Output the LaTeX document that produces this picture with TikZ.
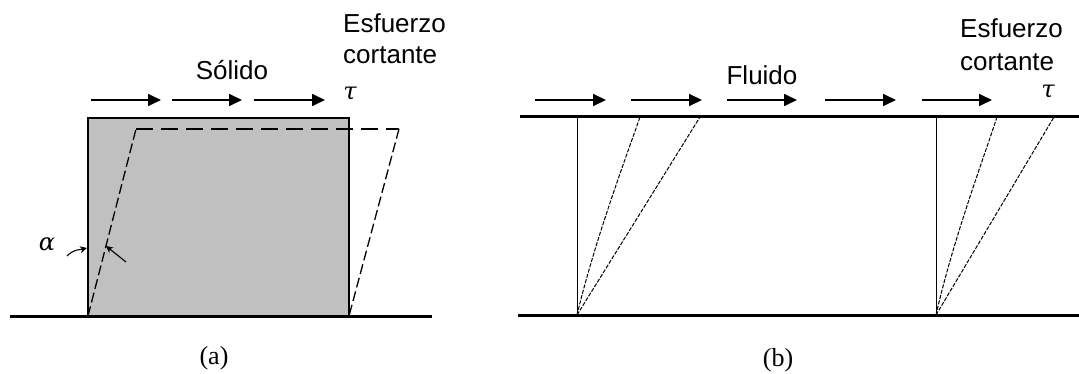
\documentclass[tikz,border=0pt]{standalone}
\usepackage{fontspec}
\setmainfont{Liberation Serif}
\newfontfamily\lsans{Liberation Sans}
\newfontfamily\gser{DejaVu Serif}
\usetikzlibrary{arrows.meta}
\tikzset{
  force/.style={line width=1.7pt,-{Triangle[length=13pt,width=12pt]}},
  ground/.style={line width=3pt},
  slant/.style={line width=1.3pt,dash pattern=on 10pt off 4pt},
  topdash/.style={line width=1.3pt,dash pattern=on 17pt off 8pt},
  fine/.style={line width=1pt,dash pattern=on 4pt off 1.5pt},
  lbl/.style={font=\lsans\fontsize{26}{29}\selectfont,inner sep=0pt},
  greek/.style={font=\gser\itshape\fontsize{24}{26}\selectfont,inner sep=0pt},
  captxt/.style={font=\fontsize{26}{29}\selectfont,inner sep=0pt},
  small/.style={line width=1.1pt,-{Stealth[length=7pt,width=7pt]}}
}
\begin{document}
\begin{tikzpicture}[x=1pt,y=-1pt]
\useasboundingbox (0,0) rectangle (1079,374);
% ---------- panel (a) ----------
\coordinate (ga) at (10,316); \coordinate (gb) at (432,316);
\coordinate (bl) at (88,316); \coordinate (br) at (349,316);
\coordinate (tl) at (88,118); \coordinate (tr) at (349,118);
\coordinate (dl) at (136,129); \coordinate (dr) at (399,129);
\fill[fill={rgb,255:red,192;green,192;blue,192}] (bl) rectangle (tr);
\draw[line width=1.4pt] (bl) -- (tl) -- (tr) -- (br);
\draw[slant] (bl) -- (dl);
\draw[topdash] (dl) -- (dr);
\draw[slant] (dr) -- (br);
\draw[ground] (ga) -- (gb);
% arrows
\coordinate (a1s) at (91,100); \coordinate (a1e) at (161,100);
\coordinate (a2s) at (172,100); \coordinate (a2e) at (242,100);
\coordinate (a3s) at (254,100); \coordinate (a3e) at (325,100);
\draw[force] (a1s) -- (a1e);
\draw[force] (a2s) -- (a2e);
\draw[force] (a3s) -- (a3e);
\node[lbl] (solido) at (232,70) {Sólido};
\node[lbl,anchor=west] (esfa) at (343,23) {Esfuerzo};
\node[lbl,anchor=west] (cora) at (343,55) {cortante};
\node[greek] (taua) at (350,94) {τ};
% alpha
\node[greek] (alpha) at (47,244) {α};
\coordinate (al1) at (67,256); \coordinate (al2) at (87,248);
\draw[small] (al1) .. controls (74,249) and (79,250) .. (al2);
\coordinate (al3) at (126,262); \coordinate (al4) at (106,246);
\draw[small] (al3) -- (al4);
\node[captxt] (capa) at (214,358) {(a)};
% ---------- panel (b) ----------
\coordinate (tA) at (520,117); \coordinate (tB) at (1079,117);
\coordinate (bA) at (518,315); \coordinate (bB) at (1079,315);
\draw[ground] (tA) -- (tB);
\draw[ground] (bA) -- (bB);
\coordinate (v1b) at (577,315); \coordinate (v1t) at (577,117);
\coordinate (p1) at (640,117); \coordinate (p2) at (700,117);
\draw[line width=1pt] (v1b) -- (v1t);
\draw[fine] (v1b) .. controls (595,240) and (625,160) .. (p1);
\draw[fine] (v1b) -- (p2);
\coordinate (v2b) at (936,315); \coordinate (v2t) at (936,117);
\coordinate (q1) at (997,117); \coordinate (q2) at (1054,117);
\draw[line width=1pt] (v2b) -- (v2t);
\draw[fine] (v2b) .. controls (953,240) and (983,160) .. (q1);
\draw[fine] (v2b) -- (q2);
\coordinate (b1s) at (535,100); \coordinate (b1e) at (606,100);
\coordinate (b2s) at (631,100); \coordinate (b2e) at (702,100);
\coordinate (b3s) at (727,100); \coordinate (b3e) at (797,100);
\coordinate (b4s) at (825,100); \coordinate (b4e) at (896,100);
\coordinate (b5s) at (922,100); \coordinate (b5e) at (992,100);
\draw[force] (b1s) -- (b1e);
\draw[force] (b2s) -- (b2e);
\draw[force] (b3s) -- (b3e);
\draw[force] (b4s) -- (b4e);
\draw[force] (b5s) -- (b5e);
\node[lbl] (fluido) at (762,75) {Fluido};
\node[lbl,anchor=west] (esfb) at (960,28) {Esfuerzo};
\node[lbl,anchor=west] (corb) at (960,62) {cortante};
\node[greek] (taub) at (1048,92) {τ};
\node[captxt] (capb) at (778,360) {(b)};
\end{tikzpicture}
\end{document}
